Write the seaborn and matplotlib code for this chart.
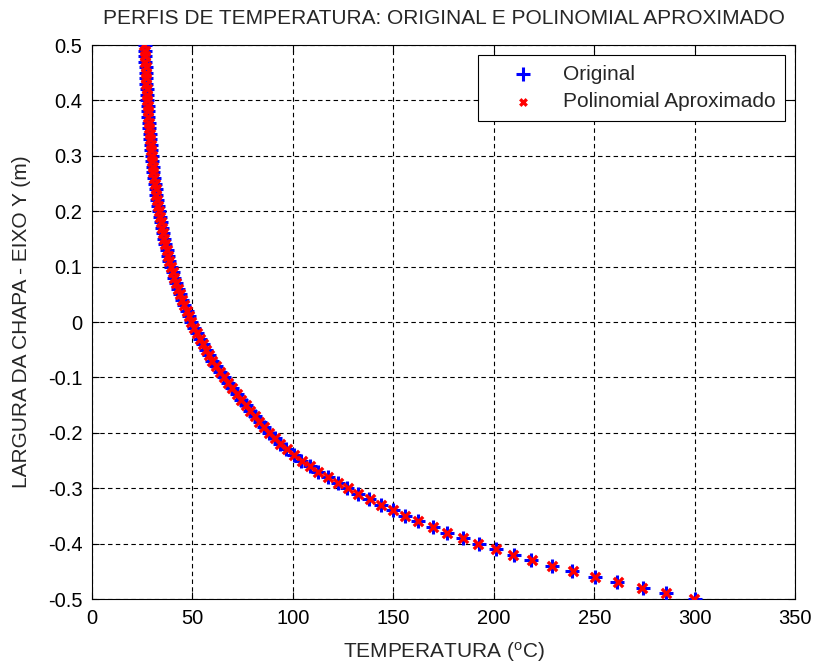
import numpy as np
import pandas as pd
import matplotlib
matplotlib.use("Agg")
import matplotlib.pyplot as plt
import seaborn as sns

# largura da chapa (m), de -0.5 a 0.5 em passos de 0.01
largura = np.round(np.linspace(-0.5, 0.5, 101), 2)

temp_original = [
    300.0, 285.6, 274.0, 261.5, 250.3, 238.9, 229.0, 218.7, 209.8, 200.9,
    192.4, 184.4, 176.7, 169.8, 162.3, 156.0, 149.7, 143.8, 138.0, 132.6,
    127.1, 122.3, 117.2, 112.4, 108.6, 104.2, 100.4, 96.7, 93.7, 90.9,
    88.3, 85.8, 83.4, 81.0, 78.7, 76.5, 74.2, 72.0, 69.8, 67.6,
    65.5, 63.6, 61.7, 59.9, 58.2, 56.5, 55.0, 53.5, 52.1, 50.8,
    49.5, 48.3, 47.1, 45.9, 44.8, 43.8, 42.8, 41.9, 41.0, 40.1,
    39.3, 38.5, 37.8, 37.1, 36.4, 35.8, 35.2, 34.7, 34.1, 33.7,
    33.2, 32.8, 32.3, 31.9, 31.6, 31.2, 30.9, 30.6, 30.3, 30.0,
    29.7, 29.5, 29.2, 29.0, 28.7, 28.5, 28.3, 28.1, 27.9, 27.8,
    27.6, 27.4, 27.3, 27.1, 27.0, 26.8, 26.7, 26.6, 26.4, 26.3,
    26.2,
]

temp_polinomial = [
    299.6, 285.9, 273.7, 261.8, 250.1, 239.2, 228.8, 218.9, 209.6, 201.1,
    192.3, 184.5, 176.6, 169.9, 162.4, 155.9, 149.8, 143.7, 138.1, 132.5,
    127.2, 122.2, 117.3, 112.5, 108.5, 104.3, 100.3, 96.8, 93.6, 90.9,
    88.2, 85.8, 83.3, 81.0, 78.8, 76.4, 74.3, 72.0, 69.8, 67.7,
    65.5, 63.5, 61.7, 59.9, 58.1, 56.5, 55.0, 53.5, 52.1, 50.7,
    49.5, 48.3, 47.1, 45.9, 44.8, 43.8, 42.8, 41.9, 41.0, 40.1,
    39.3, 38.5, 37.8, 37.1, 36.4, 35.8, 35.2, 34.7, 34.2, 33.7,
    33.2, 32.8, 32.3, 31.9, 31.6, 31.2, 30.9, 30.6, 30.3, 30.0,
    29.7, 29.5, 29.2, 29.0, 28.7, 28.5, 28.3, 28.1, 27.9, 27.8,
    27.6, 27.4, 27.3, 27.1, 27.0, 26.8, 26.7, 26.6, 26.4, 26.3,
    26.1,
]

xticks = [0, 50, 100, 150, 200, 250, 300, 350]
yticks = [-0.5, -0.4, -0.3, -0.2, -0.1, 0, 0.1, 0.2, 0.3, 0.4, 0.5]
ytick_labels = ["-0.5", "-0.4", "-0.3", "-0.2", "-0.1", "0",
                "0.1", "0.2", "0.3", "0.4", "0.5"]

df = pd.DataFrame({"y": largura, "original": temp_original, "poli": temp_polinomial})

sns.set_style("ticks")
plt.rcParams["font.family"] = ["Liberation Sans", "DejaVu Sans"]
plt.rcParams["mathtext.fontset"] = "custom"
plt.rcParams["mathtext.rm"] = "Liberation Sans"
plt.rcParams["mathtext.it"] = "Liberation Sans"

fig = plt.figure(figsize=(8.15, 6.66), dpi=100)
ax = fig.add_axes([0.1129, 0.1006, 0.8629, 0.8318])

sns.scatterplot(data=df, x="original", y="y", marker="+", color="blue",
                s=100, linewidth=2.2, label="Original", ax=ax, zorder=3)
sns.scatterplot(data=df, x="poli", y="y", marker="x", color="red",
                s=45, linewidth=2.4, label="Polinomial Aproximado", ax=ax, zorder=4)

ax.set_xlim(0, 350)
ax.set_ylim(-0.5, 0.5)
ax.set_xticks(xticks)
ax.set_yticks(yticks)
ax.set_yticklabels(ytick_labels)
ax.grid(True, color="black", linestyle=(0, (4, 3)), linewidth=0.8)
ax.set_axisbelow(True)
ax.tick_params(direction="in", top=True, right=True, length=5, width=0.8,
               labelsize=14.5, colors="black", pad=7)
for sp in ax.spines.values():
    sp.set_visible(True)
    sp.set_color("black")
    sp.set_linewidth(0.8)

ax.set_title("PERFIS DE TEMPERATURA: ORIGINAL E POLINOMIAL APROXIMADO",
             fontsize=15, pad=15)
ax.set_xlabel(r"TEMPERATURA ($^{o}$C)", fontsize=15, labelpad=9)
ax.set_ylabel("LARGURA DA CHAPA - EIXO Y (m)", fontsize=15, labelpad=12)

leg = ax.legend(loc="upper right", fontsize=15, frameon=True, fancybox=False,
                edgecolor="black", framealpha=1, borderpad=0.45,
                handlelength=3.4, handletextpad=0.2, labelspacing=0.4,
                borderaxespad=0.5)
leg.get_frame().set_linewidth(0.8)
leg.legend_handles[0].set_sizes([100])
leg.legend_handles[1].set_sizes([22])

fig.savefig("out.png", dpi=100)
